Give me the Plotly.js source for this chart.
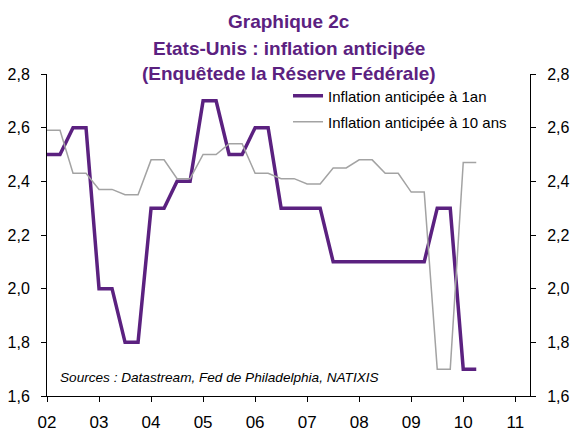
<!DOCTYPE html>
<html>
<head>
<meta charset="utf-8">
<script src="https://cdn.plot.ly/plotly-3.0.1.min.js"></script>
<style>
  body { margin: 0; }
  #chart { width: 571px; height: 431px; }
</style>
</head>
<body>
<div id="chart"></div>
<script>
// quarterly dates, 2002Q1 .. 2010Q2
var quarters = [];
for (var yr = 2002; yr <= 2010; yr++) {
  for (var q = 0; q < 4; q++) quarters.push(yr + q / 4);
}
quarters = quarters.slice(0, 34);

// inflation anticipee a 1 an
var infl1an = [2.5, 2.5, 2.6, 2.6, 2.0, 2.0, 1.8, 1.8,
  2.3, 2.3, 2.4, 2.4, 2.7, 2.7, 2.5, 2.5,
  2.6, 2.6, 2.3, 2.3, 2.3, 2.3, 2.1, 2.1,
  2.1, 2.1, 2.1, 2.1, 2.1, 2.1, 2.3, 2.3,
  1.7, 1.7];

// inflation anticipee a 10 ans
var infl10ans = [2.59, 2.59, 2.43, 2.43, 2.37, 2.37, 2.35, 2.35,
  2.48, 2.48, 2.41, 2.41, 2.5, 2.5, 2.54, 2.54,
  2.43, 2.43, 2.41, 2.41, 2.39, 2.39, 2.45, 2.45,
  2.48, 2.48, 2.43, 2.43, 2.36, 2.36, 1.7, 1.7,
  2.47, 2.47];

var yearTicks = [2002, 2003, 2004, 2005, 2006, 2007, 2008, 2009, 2010, 2011];
var yearLabels = ['02', '03', '04', '05', '06', '07', '08', '09', '10', '11'];

var titleLines = ['Graphique 2c', 'Etats-Unis : inflation anticipée', '(Enquêtede la Réserve Fédérale)'];

var purple = '#5b2180';
var grey = '#a3a3a3';
var fam = 'Liberation Sans, Arial, sans-serif';

var trace1 = {
  x: quarters,
  y: infl1an,
  type: 'scatter',
  mode: 'lines',
  name: 'Inflation anticipée à 1an',
  line: {color: purple, width: 3.5},
  legend: 'legend'
};

var trace2 = {
  x: quarters,
  y: infl10ans,
  type: 'scatter',
  mode: 'lines',
  name: 'Inflation anticipée à 10 ans',
  line: {color: grey, width: 1.5},
  yaxis: 'y2',
  legend: 'legend2'
};

var axisFont = {family: fam, size: 16, color: '#000'};

// title as three centred lines
var titleY = [1.1615, 1.0807, 1.003];
var annotations = titleLines.map(function (t, i) {
  return {
    text: '<b>' + t + '</b>',
    xref: 'paper', yref: 'paper',
    x: 0.502, y: titleY[i],
    xanchor: 'center', yanchor: 'middle',
    showarrow: false,
    font: {family: fam, size: 19, color: purple}
  };
});
annotations.push({
  text: '<i>Sources : Datastream, Fed de Philadelphia, NATIXIS</i>',
  xref: 'paper', yref: 'paper',
  x: 0.022, y: 0.059,
  xanchor: 'left', yanchor: 'middle',
  showarrow: false,
  font: {family: fam, size: 13.6, color: '#000'}
});

var layout = {
  width: 571,
  height: 431,
  margin: {l: 47, r: 41, t: 74, b: 35},
  paper_bgcolor: '#fff',
  plot_bgcolor: '#fff',
  separators: ', ',
  showlegend: true,
  font: {family: fam, color: '#000'},
  xaxis: {
    range: [2002, 2011.283],
    tickvals: yearTicks,
    ticktext: yearLabels,
    ticks: 'outside',
    ticklen: 5,
    tickcolor: '#000',
    showline: true,
    linecolor: '#000',
    linewidth: 1,
    showgrid: false,
    zeroline: false,
    ticklabelstandoff: 6,
    tickfont: {family: fam, size: 17, color: '#000'}
  },
  yaxis: {
    range: [1.6, 2.8],
    dtick: 0.2,
    tickformat: '.1f',
    ticks: 'outside',
    ticklen: 5,
    tickcolor: '#000',
    showline: true,
    linecolor: '#000',
    showgrid: false,
    zeroline: false,
    ticklabelstandoff: 8,
    tickfont: axisFont
  },
  yaxis2: {
    range: [1.6, 2.8],
    dtick: 0.2,
    tickformat: '.1f',
    overlaying: 'y',
    side: 'right',
    ticks: 'outside',
    ticklen: 5,
    tickcolor: '#000',
    showline: true,
    linecolor: '#000',
    showgrid: false,
    zeroline: false,
    ticklabelstandoff: 8,
    tickfont: axisFont
  },
  legend: {
    x: 0.499, xanchor: 'left',
    y: 0.932, yanchor: 'middle',
    bgcolor: 'rgba(0,0,0,0)',
    font: {family: fam, size: 15, color: '#000'}
  },
  legend2: {
    x: 0.499, xanchor: 'left',
    y: 0.851, yanchor: 'middle',
    bgcolor: 'rgba(0,0,0,0)',
    font: {family: fam, size: 15, color: '#000'}
  },
  annotations: annotations
};

Plotly.newPlot('chart', [trace1, trace2], layout, {displayModeBar: false, staticPlot: true});
</script>
</body>
</html>
